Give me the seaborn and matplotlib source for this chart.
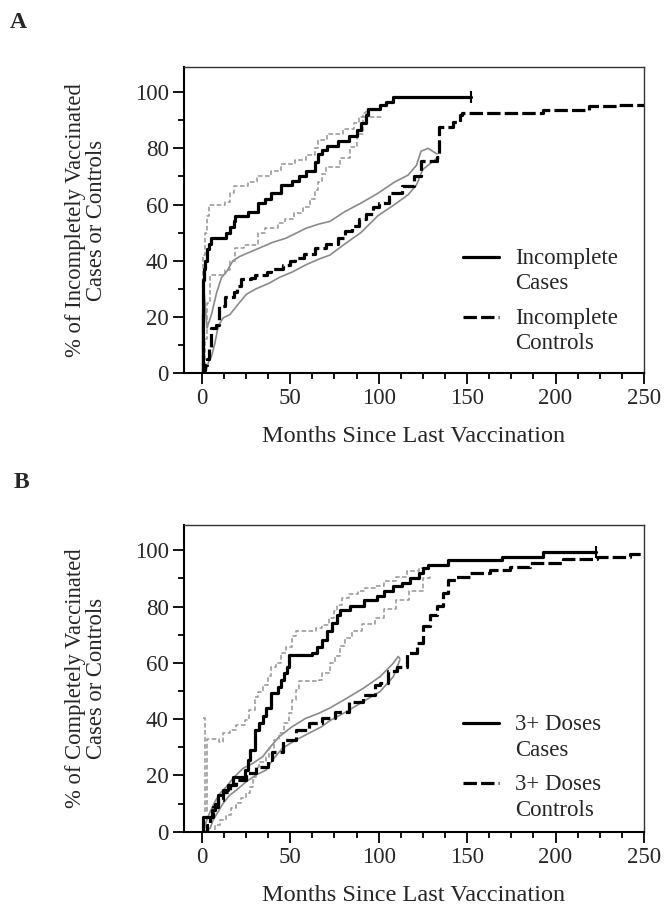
import numpy as np
import seaborn as sns
import matplotlib
matplotlib.use("Agg")
import matplotlib.pyplot as plt
from matplotlib.legend_handler import HandlerLine2D
from matplotlib.lines import Line2D
from matplotlib.ticker import MultipleLocator

# ---- Panel A: incompletely vaccinated ----
a_cases_x = [0, 0.5, 1, 1.5, 2, 3, 4, 5, 14, 16, 18, 19, 26, 32, 36, 39, 45, 51, 55, 59, 64, 66, 68, 71, 77, 83,
             88, 90, 93, 94, 101, 104, 108, 152]
a_cases_y = [0, 22, 33, 37, 40, 44, 46, 48, 50, 52, 54, 56, 57.5, 60.5, 62, 64, 67, 68.5, 70, 72, 75, 78, 79.5, 81,
             82.5, 84.5, 86.5, 89, 92, 94, 95.4, 96.6, 98.3, 98.3]
a_cases_hi_x = [0, 0.5, 1, 2, 3, 4, 13, 16, 18, 26, 31, 39, 45, 53, 59, 64, 66, 71, 80, 86, 89, 91, 93, 96]
a_cases_hi_y = [0, 30, 42, 50, 56, 60, 61, 64, 66.5, 68, 70, 72, 74.5, 76, 77.5, 80, 83, 85, 87, 89, 91, 92.5, 94, 94]
a_cases_lo_x = [1.5, 2, 3, 4.5, 13, 16, 19, 24, 32, 36, 43, 47, 52, 57, 61, 64, 66, 68, 70, 78, 84, 88, 91, 102]
a_cases_lo_y = [0, 12, 25, 35, 36.5, 40, 44.5, 45.5, 50, 51.5, 53.5, 55, 57, 59, 62, 65, 68, 71, 73.5, 76.5, 80.5,
                85, 91, 91]

a_ctrl_x = [0, 1, 2, 3, 4, 5.5, 8, 10, 13, 18, 20, 22, 28, 30, 37, 39, 46, 50, 53, 58, 64, 70, 77, 81, 85, 89, 93,
            97, 100, 106, 113, 120, 124, 133, 134, 142, 146, 147, 193, 219, 236, 250]
a_ctrl_y = [0, 1, 3, 5, 9, 16, 17, 24, 27, 29, 31, 33.5, 34, 35, 36, 37, 38.5, 40, 41, 42.5, 44.5, 46, 48, 50.5,
            52.5, 55, 56.5, 59, 60.5, 64, 66.5, 70, 75.5, 77, 87.7, 89.5, 91.8, 92.6, 93.6, 95, 95.4, 95.4]
a_ctrl_hi_x = [0.5, 0.5, 1.5, 3, 5.6, 8.4, 11.2, 14, 17.7, 21.5, 27, 34.5, 40, 47.6, 58.8, 66, 72.5, 81, 90, 99.6,
               109, 116.7, 121.4, 124, 128, 133]
a_ctrl_hi_y = [0, 20, 28, 16, 21, 28.5, 34, 36, 40, 41.5, 43, 45, 46.5, 48, 51.5, 53, 54, 57.5, 60.5, 64, 68,
               70.5, 74, 79, 80, 78]
a_ctrl_lo_x = [2, 4, 5.6, 7.5, 9.3, 12.1, 15.9, 19.6, 25.2, 30.8, 38.2, 43.8, 51.3, 58.8, 66, 72.5, 81, 90, 99.6,
               109, 116.7, 121.4, 125, 130, 133]
a_ctrl_lo_y = [0, 4, 6, 10.7, 16.6, 19.6, 20.8, 23.7, 28, 30, 32, 34, 36, 38.5, 40.5, 42, 46, 50, 56, 60, 63.5,
               67, 72.5, 75, 76.5]

# ---- Panel B: completely vaccinated (3+ doses) ----
b_cases_x = [0, 0.9, 5.6, 7.5, 9.3, 12.1, 14.9, 17.7, 24.3, 26.1, 27.4, 29.9, 32.6, 34.5, 36.4, 39.2, 42.9, 44.8,
             46.6, 48.5, 49.4, 62.5, 65.3, 68.1, 70.9, 73.7, 76.5, 78.4, 84, 92, 99, 103, 108, 113, 118, 123, 125,
             128, 139, 170, 193, 223]
b_cases_y = [0, 5.1, 7.7, 10, 13, 14.8, 16.6, 19.6, 21.9, 25.5, 29, 36.2, 38.5, 41, 43.9, 49.2, 51.6, 54, 56.3,
             58.7, 62.8, 63.5, 65.8, 68.2, 71.2, 74.1, 77.1, 78.9, 80.1, 82.2, 83.6, 85.4, 87.2, 88.4, 90.2, 92,
             93.8, 94.9, 96.4, 97.7, 99.3, 99.3]
b_cases_hi_x = [1, 1.8, 2.8, 10, 12.1, 15.9, 19.6, 24.3, 27, 29.9, 31.7, 34.5, 37.3, 39.2, 42, 44.8, 47.6, 51.3,
                53.2, 64.4, 68.1, 71.8, 74.6, 76.5, 79.3, 83, 88.6, 92.4, 98, 103, 110, 116, 123, 127]
b_cases_hi_y = [40.3, 7, 33, 32, 35, 36.2, 38, 39.7, 43.3, 48, 49.8, 52.2, 55.2, 58.7, 59.9, 63.5, 65.8, 69.4,
                71.2, 72.4, 73.6, 75.9, 78.3, 80.7, 83, 84.5, 85.5, 86.5, 87.5, 89, 90.7, 92.5, 93.7, 94]
b_cases_lo_x = [4.7, 7.5, 10.3, 14, 16.8, 19.6, 22.4, 25.2, 27.1, 28.9, 30.8, 32.6, 36.4, 38.2, 41, 43.8, 46.6,
                49.4, 51.3, 53.2, 55, 66.2, 68, 72.5, 75.6, 78.4, 81.2, 85, 90.5, 98, 103, 110, 117, 125, 129]
b_cases_lo_y = [0, 2.4, 4.2, 5.9, 8.3, 10.1, 11.9, 13.6, 16, 19.6, 23.1, 24.9, 26.7, 29.7, 32.6, 35, 38.6, 42.1,
                46.9, 50.4, 53.4, 54, 56.3, 60, 62.5, 66, 69, 71.5, 74, 76, 79, 82.5, 85.5, 90, 91]

b_ctrl_x = [0, 2.8, 4.7, 6.5, 9.3, 12.1, 15.9, 19.6, 25.2, 30.8, 37.3, 40, 45.7, 53.2, 60.6, 68, 75.6, 83, 91, 98,
            101, 105.4, 110.2, 115.8, 121.5, 125.2, 129, 132.8, 136.5, 139.4, 144, 151.6, 162.9, 174.2, 185.5,
            204.4, 223.3, 242, 250]
b_ctrl_y = [0, 2.4, 5.3, 8.9, 11.3, 14.2, 16.6, 18.4, 20.8, 23.1, 25.5, 28.5, 32.6, 36.2, 38.6, 40.3, 42.7, 46,
            48.6, 52, 52.8, 57, 58.7, 63.5, 67, 73, 77.1, 80.1, 84.8, 89.5, 90.7, 91.9, 93, 94.2, 95.4, 96.8, 97.8,
            98.6, 98.8]
b_ctrl_hi_x = [1, 2.8, 4.7, 7.5, 10.3, 14, 17.7, 23.3, 28.9, 34.5, 38.2, 43.8, 51.3, 58.8, 66.2, 72.5, 81.9, 91.4,
               100.8, 108.3, 111.1, 112]
b_ctrl_hi_y = [0, 4, 7, 10.7, 13.6, 16, 19, 22.5, 24.3, 26.7, 29.7, 33.8, 37.4, 40.3, 42.1, 44, 47.4, 51, 55.1,
               59.9, 62.3, 61.5]
b_ctrl_lo_x = [1.9, 4.7, 6.5, 9.3, 12.1, 15.9, 19.6, 25.2, 30.8, 36.4, 40, 45.7, 53.2, 60.6, 68, 72.5, 81.9, 91.4,
               100.8, 108.3, 112]
b_ctrl_lo_y = [0, 1.2, 4.2, 7.1, 10.1, 13, 14.8, 17.8, 20.2, 21.9, 25.5, 29.7, 32.6, 35, 37.4, 39.5, 42.7, 46.3,
               49.8, 55.1, 61]

BAND_DASH = (0, (3, 1.6))
MAIN_DASH = (0, (4.2, 1.3))
FS = 16.5


class FirstLineHandler(HandlerLine2D):
    # puts the legend line next to the first line of a two-line label
    def create_artists(self, legend, orig_handle, xdescent, ydescent, width, height, fontsize, trans):
        arts = super().create_artists(legend, orig_handle, xdescent, ydescent, width, height, fontsize, trans)
        for a in arts:
            a.set_ydata(np.asarray(a.get_ydata()) + 0.63 * fontsize)
        return arts


def draw(ax, x, y, steps=True, **kw):
    sns.lineplot(x=x, y=y, ax=ax, estimator=None, sort=False,
                 drawstyle="steps-post" if steps else "default", **kw)


def panel(ax, cases, cases_hi, cases_lo, ctrl, ctrl_hi, ctrl_lo, labels, ylabel, leg_y):
    draw(ax, *ctrl_hi, steps=False, color="#8a8a8a", linewidth=1.2)
    draw(ax, *ctrl_lo, steps=False, color="#8a8a8a", linewidth=1.2)
    draw(ax, *cases_hi, color="#959595", linewidth=1.1, linestyle=BAND_DASH)
    draw(ax, *cases_lo, color="#959595", linewidth=1.1, linestyle=BAND_DASH)
    draw(ax, *ctrl, color="black", linewidth=2.3, linestyle=MAIN_DASH)
    draw(ax, *cases, color="black", linewidth=2.3)
    # censor mark at the end of the cases curve
    ax.scatter(cases[0][-1:], cases[1][-1:], marker="|", s=70, color="black", linewidths=1.5, zorder=5)

    ax.set_xlim(-10, 250)
    ax.set_ylim(0, 109)
    ax.xaxis.set_major_locator(MultipleLocator(50))
    ax.xaxis.set_minor_locator(MultipleLocator(12.5))
    ax.yaxis.set_major_locator(MultipleLocator(20))
    ax.yaxis.set_minor_locator(MultipleLocator(10))
    ax.tick_params(which="major", direction="out", length=8, width=1.3, labelsize=FS, pad=3, color="black")
    ax.tick_params(which="minor", direction="out", length=4.5, width=1.3, color="black")
    for s in ["left", "bottom"]:
        ax.spines[s].set_linewidth(1.5)
        ax.spines[s].set_color("black")
    for s in ["top", "right"]:
        ax.spines[s].set_linewidth(1.0)
        ax.spines[s].set_color("#333333")

    ax.set_xlabel("Months Since Last Vaccination", fontsize=17.5, labelpad=12)
    ax.set_ylabel(ylabel, fontsize=16.3, linespacing=1.0)
    ax.yaxis.set_label_coords(-0.168, 0.5)

    h_solid = Line2D([], [], color="black", linewidth=2.3)
    h_dash = Line2D([], [], color="black", linewidth=2.3, linestyle=MAIN_DASH)
    leg = ax.legend([h_solid, h_dash], labels, loc="upper left", bbox_to_anchor=(0.6065, leg_y),
                    frameon=False, borderpad=0, borderaxespad=0, handlelength=1.55, handletextpad=0.72,
                    labelspacing=0.6, fontsize=FS, handler_map={Line2D: FirstLineHandler()})
    for t in leg.get_texts():
        t.set_linespacing(1.27)


sns.set_style("ticks")
plt.rcParams["font.family"] = ["Liberation Serif", "DejaVu Serif"]

fig = plt.figure(figsize=(6.64, 9.11), dpi=100)
axA = fig.add_axes([0.2771, 0.5906, 0.6928, 0.3359])
axB = fig.add_axes([0.2771, 0.0870, 0.6928, 0.3367])

panel(axA, (a_cases_x, a_cases_y), (a_cases_hi_x, a_cases_hi_y), (a_cases_lo_x, a_cases_lo_y),
      (a_ctrl_x, a_ctrl_y), (a_ctrl_hi_x, a_ctrl_hi_y), (a_ctrl_lo_x, a_ctrl_lo_y),
      ["Incomplete\nCases", "Incomplete\nControls"],
      "% of Incompletely Vaccinated\nCases or Controls", 0.4085)
panel(axB, (b_cases_x, b_cases_y), (b_cases_hi_x, b_cases_hi_y), (b_cases_lo_x, b_cases_lo_y),
      (b_ctrl_x, b_ctrl_y), (b_ctrl_hi_x, b_ctrl_hi_y), (b_ctrl_lo_x, b_ctrl_lo_y),
      ["3+ Doses\nCases", "3+ Doses\nControls"],
      "% of Completely Vaccinated\nCases or Controls", 0.383)

fig.text(18 / 664, 1 - 23 / 911, "A", fontsize=17, fontweight="bold", ha="center", va="center")
fig.text(21 / 664, 1 - 482 / 911, "B", fontsize=17, fontweight="bold", ha="center", va="center")

fig.savefig("out.png", dpi=100)
